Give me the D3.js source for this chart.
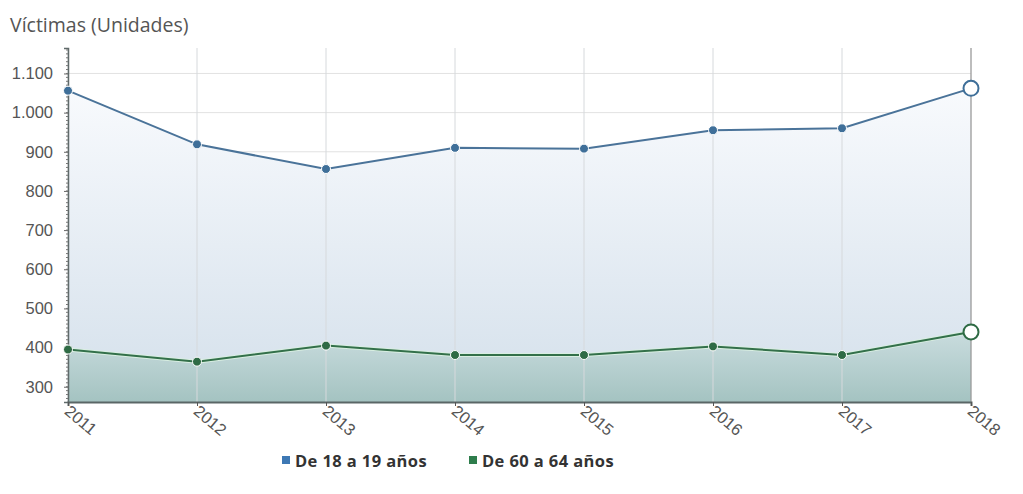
<!DOCTYPE html>
<html>
<head>
<meta charset="utf-8">
<script src="https://cdn.jsdelivr.net/npm/d3@7"></script>
<style>
  html, body { margin: 0; padding: 0; background: #fff; }
  svg { display: block; font-family: "Open Sans", "Noto Sans", sans-serif; }
</style>
</head>
<body>
<svg id="chart" width="1023" height="494"></svg>
<script>
// Víctimas por grupo de edad, 2011–2018
const years = ["2011", "2012", "2013", "2014", "2015", "2016", "2017", "2018"];
const victimas18a19 = [1056, 919, 856, 910, 908, 955, 960, 1062];
const victimas60a64 = [395, 364, 405, 381, 381, 403, 381, 440];
const yTicks = [300, 400, 500, 600, 700, 800, 900, 1000, 1100];
const seriesNames = ["De 18 a 19 años", "De 60 a 64 años"];
const yTitle = "Víctimas (Unidades)";

const W = 1023, H = 494;
const margin = { top: 48, right: 52, bottom: 92, left: 68 };
const svg = d3.select("#chart");

const x = d3.scalePoint().domain(years).range([margin.left, W - margin.right]);
const y = d3.scaleLinear().domain([261, 1165]).range([H - margin.bottom, margin.top]);

const es = d3.formatLocale({ decimal: ",", thousands: ".", grouping: [3], currency: ["", " €"] });
const fmt = es.format(",d");

// gradients for the filled areas
const defs = svg.append("defs");
const gBlue = defs.append("linearGradient").attr("id", "gradBlue")
  .attr("gradientUnits", "userSpaceOnUse")
  .attr("x1", 0).attr("x2", 0).attr("y1", y(1060)).attr("y2", y(261));
gBlue.append("stop").attr("offset", 0).attr("stop-color", "#f8fafd");
gBlue.append("stop").attr("offset", 1).attr("stop-color", "#d4e0eb");
const gGreen = defs.append("linearGradient").attr("id", "gradGreen")
  .attr("gradientUnits", "userSpaceOnUse")
  .attr("x1", 0).attr("x2", 0).attr("y1", y(440)).attr("y2", y(261));
gGreen.append("stop").attr("offset", 0).attr("stop-color", "#c9dcde");
gGreen.append("stop").attr("offset", 1).attr("stop-color", "#a4c3c1");

// horizontal grid
svg.append("g")
  .selectAll("line").data(yTicks).join("line")
  .attr("x1", margin.left).attr("x2", W - margin.right)
  .attr("y1", d => y(d)).attr("y2", d => y(d))
  .attr("stroke", "#e2e2e2").attr("stroke-width", 1);

// areas
const area = d3.area().x((d, i) => x(years[i])).y0(y(261)).y1(d => y(d));
svg.append("path").datum(victimas18a19).attr("d", area).attr("fill", "url(#gradBlue)");
svg.append("path").datum(victimas60a64).attr("d", area).attr("fill", "url(#gradGreen)");

// vertical grid
svg.append("g")
  .selectAll("line").data(years).join("line")
  .attr("x1", d => x(d)).attr("x2", d => x(d))
  .attr("y1", margin.top).attr("y2", H - margin.bottom)
  .attr("stroke", d => d === "2018" ? "#9a9a9a" : "#d6d9dc")
  .attr("stroke-width", d => d === "2018" ? 1.3 : 1);

// lines
const line = d3.line().x((d, i) => x(years[i])).y(d => y(d));
svg.append("path").datum(victimas60a64).attr("d", line)
  .attr("fill", "none").attr("stroke", "#d9efe2").attr("stroke-width", 4);
svg.append("path").datum(victimas60a64).attr("d", line)
  .attr("fill", "none").attr("stroke", "#33704a").attr("stroke-width", 2);
svg.append("path").datum(victimas18a19).attr("d", line)
  .attr("fill", "none").attr("stroke", "#4a7399").attr("stroke-width", 2);

// y axis
const yAxis = svg.append("g").attr("transform", `translate(${margin.left},0)`)
  .call(d3.axisLeft(y).tickValues(yTicks).tickFormat(fmt).tickSize(4).tickPadding(11));
yAxis.select(".domain").attr("stroke", "#5f6a6a").attr("stroke-width", 1.5);
yAxis.selectAll(".tick line").attr("stroke", "#666");
yAxis.selectAll(".tick text").attr("fill", "#555").style("font-size", "16.5px");
// minor ticks along the vertical axis
svg.append("g").selectAll("line").data(d3.range(270, 1165, 10)).join("line")
  .attr("x1", margin.left - 2).attr("x2", margin.left)
  .attr("y1", d => y(d)).attr("y2", d => y(d))
  .attr("stroke", "#777").attr("stroke-width", 1);

// x axis
const xAxis = svg.append("g").attr("transform", `translate(0,${H - margin.bottom})`)
  .call(d3.axisBottom(x).tickSize(4).tickPadding(6));
xAxis.select(".domain").attr("stroke", "#5a6666").attr("stroke-width", 2);
xAxis.selectAll(".tick line").attr("stroke", "#555");
xAxis.selectAll(".tick text")
  .attr("fill", "#555").style("font-size", "16.5px")
  .attr("text-anchor", "start")
  .attr("dy", null).attr("y", 0)
  .attr("transform", "translate(-5,11) rotate(40)");

// markers
function markers(data, color) {
  const g = svg.append("g");
  g.selectAll("circle.pt").data(data.slice(0, -1)).join("circle")
    .attr("class", "pt")
    .attr("cx", (d, i) => x(years[i])).attr("cy", d => y(d))
    .attr("r", 4.5).attr("fill", color).attr("stroke", "#ffffff").attr("stroke-width", 1);
  const last = data.length - 1;
  g.append("circle")
    .attr("cx", x(years[last])).attr("cy", y(data[last]))
    .attr("r", 7.5).attr("fill", "#fff").attr("stroke", color).attr("stroke-width", 2);
}
markers(victimas18a19, "#3f6f99");
markers(victimas60a64, "#2f6b45");

// title
svg.append("text").attr("x", 10).attr("y", 32)
  .attr("fill", "#555").style("font-size", "19.5px").text(yTitle);

// legend
const legendColors = ["#3d78b4", "#2e7d4c"];
const legendX = [282, 469];
const lg = svg.append("g");
seriesNames.forEach((name, i) => {
  lg.append("rect").attr("x", legendX[i]).attr("y", 456).attr("width", 8).attr("height", 8)
    .attr("fill", legendColors[i]);
  lg.append("text").attr("x", legendX[i] + 13).attr("y", 467)
    .attr("fill", "#333").style("font-size", "16.5px").style("font-weight", "bold")
    .style("letter-spacing", "0.4px")
    .text(name);
});
</script>
</body>
</html>
